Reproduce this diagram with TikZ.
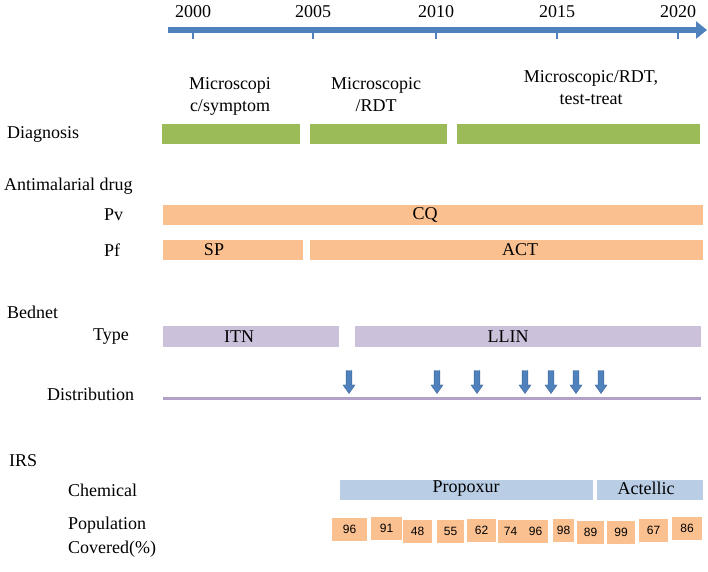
\documentclass[tikz,border=0pt]{standalone}
\usepackage{fontspec}
\setmainfont{Liberation Serif}
\setsansfont{Liberation Sans}
\usepackage{xcolor}
\usetikzlibrary{arrows.meta,positioning,shapes.arrows}
\definecolor{diagGreen}{HTML}{9BBB59}
\definecolor{drugOrange}{HTML}{FAC090}
\definecolor{netPurple}{HTML}{CCC1DA}
\definecolor{linePurple}{HTML}{B3A2C7}
\definecolor{irsBlue}{HTML}{B9CDE5}
\definecolor{axisBlue}{HTML}{4F81BD}

\begin{document}
\begin{tikzpicture}[x=1pt, y=-1pt,
  txt/.style={font=\fontsize{18}{22}\selectfont, inner sep=0pt, align=center},
  hdr/.style={txt, anchor=west, align=left},
  bar/.style={anchor=north west, inner sep=0pt, minimum height=20pt},
  numbox/.style={fill=drugOrange, inner sep=0pt, minimum height=23pt, font=\sffamily\fontsize{12}{14}\selectfont},
  drop/.style={single arrow, fill=axisBlue, draw=axisBlue!80!black, line width=0.4pt, rotate=-90,
    minimum height=23pt, minimum width=12pt, inner sep=2.5pt, single arrow head extend=3pt, single arrow tip angle=70},
  timeline/.style={line width=6pt, draw=axisBlue, -{Triangle[length=11pt,width=17pt]}},
  yeartick/.style={line width=1.6pt, draw=axisBlue}]
  \useasboundingbox (0,0) rectangle (708,571);

  % time axis
  \coordinate (axisL) at (168,30);
  \coordinate (axisR) at (707,30);
  \draw[timeline] (axisL) -- (axisR);
  \foreach \yr/\xt in {2000/193, 2005/313, 2010/436, 2015/557, 2020/678} {
    \node[txt] (yr\yr) at (\xt,12) {\yr};
    \coordinate (tk\yr) at (\xt,30);
    \coordinate (tb\yr) at (\xt,39);
    \draw[yeartick] (tk\yr) -- (tb\yr);
  }

  % diagnosis
  \node[txt] (dxlbl1) at (230,96) {Microscopi\\c/symptom};
  \node[txt] (dxlbl2) at (376,95) {Microscopic\\/RDT};
  \node[txt] (dxlbl3) at (591,88) {Microscopic/RDT,\\test-treat};
  \node[hdr] (diag) at (7,134) {Diagnosis};
  \node[bar, fill=diagGreen, minimum width=138pt] (dx1) at (162,124) {};
  \node[bar, fill=diagGreen, minimum width=137pt] (dx2) at (310,124) {};
  \node[bar, fill=diagGreen, minimum width=243pt] (dx3) at (457,124) {};

  % antimalarial drug
  \node[hdr] (drug) at (4,186) {Antimalarial drug};
  \node[hdr] (pv) at (104,215) {Pv};
  \node[hdr] (pf) at (104,250) {Pf};
  \node[bar, fill=drugOrange, minimum width=540pt] (cq) at (163,205) {};
  \node[bar, fill=drugOrange, minimum width=140pt] (sp) at (163,240) {};
  \node[bar, fill=drugOrange, minimum width=393pt] (act) at (310,240) {};
  \node[txt] (cqtxt) at (425,215) {CQ};
  \node[txt] (sptxt) at (214,250) {SP};
  \node[txt] (acttxt) at (520,250) {ACT};

  % bednet
  \node[hdr] (bednet) at (7,312) {Bednet};
  \node[hdr] (type) at (93,337) {Type};
  \node[bar, fill=netPurple, minimum width=176pt, minimum height=21pt] (itn) at (163,326) {};
  \node[bar, fill=netPurple, minimum width=346pt, minimum height=21pt] (llin) at (355,326) {};
  \node[txt] (itntxt) at (239,337) {ITN};
  \node[txt] (llintxt) at (508,337) {LLIN};
  \node[hdr] (distr) at (47,394) {Distribution};
  \coordinate (distL) at (163,398.5);
  \coordinate (distR) at (701,398.5);
  \draw[linePurple, line width=3.5pt] (distL) -- (distR);
  \foreach \xa [count=\i] in {349, 437, 477, 525, 551, 576, 601}
    \node[drop] (dist\i) at (\xa,380) {};

  % IRS
  \node[hdr] (irs) at (9,461) {IRS};
  \node[hdr] (chem) at (68,490) {Chemical};
  \node[bar, fill=irsBlue, minimum width=253pt] (prop) at (340,480) {};
  \node[bar, fill=irsBlue, minimum width=106pt] (actel) at (597,480) {};
  \node[txt] (proptxt) at (466,489) {Propoxur};
  \node[txt] (acteltxt) at (646,488) {Actellic};
  \node[hdr, font=\fontsize{18}{24}\selectfont] (popcov) at (68,537) {Population\\Covered(\%)};
  \foreach \xc/\bw/\yc/\val [count=\i] in {349.5/35/529.5/96, 386.5/31/528.5/91, 417.5/29/531.5/48,
      450.5/27/531.5/55, 481.5/29/530/62, 510.5/25/531.5/74, 535.5/25/531.5/96, 563.5/21/530/98,
      590.5/27/532/89, 621/28/532.5/99, 653.5/29/530.5/67, 687/30/528.5/86}
    \node[numbox, minimum width=\bw pt] (pop\i) at (\xc,\yc) {\val};
\end{tikzpicture}
\end{document}
